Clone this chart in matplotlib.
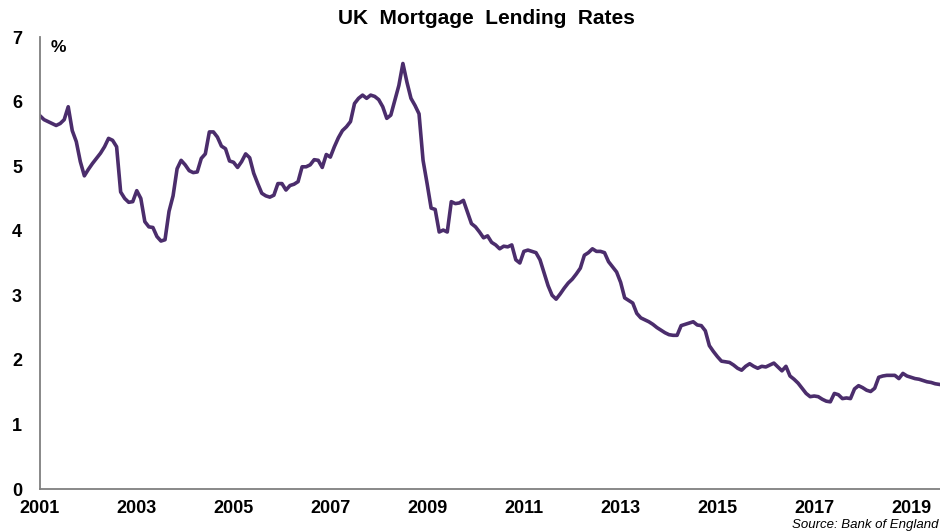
import numpy as np
import matplotlib
matplotlib.use("Agg")
from matplotlib import pyplot as plt

plt.rcParams["font.family"] = ["Liberation Sans", "DejaVu Sans"]

# monthly mortgage lending rate (%), Jan 2001 onwards
start_year = 2001
rates = [
    5.78, 5.72, 5.69, 5.66, 5.63, 5.66, 5.72, 5.92, 5.55, 5.38, 5.07, 4.85,   # 2001
    4.95, 5.04, 5.12, 5.20, 5.30, 5.43, 5.40, 5.30, 4.60, 4.50, 4.44, 4.45,   # 2002
    4.62, 4.50, 4.14, 4.06, 4.05, 3.91, 3.84, 3.86, 4.30, 4.54, 4.96, 5.09,   # 2003
    5.02, 4.93, 4.90, 4.91, 5.12, 5.19, 5.53, 5.53, 5.45, 5.31, 5.27, 5.08,   # 2004
    5.06, 4.98, 5.07, 5.19, 5.13, 4.89, 4.73, 4.58, 4.54, 4.52, 4.55, 4.73,   # 2005
    4.73, 4.63, 4.70, 4.72, 4.76, 4.99, 4.99, 5.02, 5.10, 5.09, 4.98, 5.18,   # 2006
    5.14, 5.30, 5.44, 5.55, 5.61, 5.69, 5.97, 6.05, 6.10, 6.05, 6.10, 6.08,   # 2007
    6.03, 5.92, 5.74, 5.79, 6.02, 6.25, 6.59, 6.30, 6.05, 5.94, 5.81, 5.09,   # 2008
    4.73, 4.35, 4.33, 3.98, 4.01, 3.98, 4.45, 4.42, 4.43, 4.47, 4.29, 4.11,   # 2009
    4.06, 3.98, 3.89, 3.92, 3.82, 3.78, 3.72, 3.76, 3.75, 3.78, 3.55, 3.50,   # 2010
    3.68, 3.70, 3.68, 3.66, 3.55, 3.35, 3.15, 3.00, 2.94, 3.02, 3.11, 3.19,   # 2011
    3.25, 3.33, 3.42, 3.62, 3.66, 3.72, 3.68, 3.68, 3.66, 3.52, 3.44, 3.36,   # 2012
    3.20, 2.96, 2.92, 2.88, 2.72, 2.65, 2.62, 2.59, 2.55, 2.50, 2.46, 2.42,   # 2013
    2.39, 2.38, 2.38, 2.53, 2.55, 2.57, 2.59, 2.54, 2.53, 2.45, 2.22, 2.13,   # 2014
    2.05, 1.98, 1.97, 1.96, 1.92, 1.87, 1.84, 1.90, 1.94, 1.90, 1.87, 1.90,   # 2015
    1.89, 1.92, 1.95, 1.89, 1.83, 1.90, 1.75, 1.70, 1.64, 1.56, 1.48, 1.43,   # 2016
    1.44, 1.43, 1.39, 1.36, 1.35, 1.48, 1.46, 1.40, 1.41, 1.40, 1.55, 1.60,   # 2017
    1.57, 1.53, 1.51, 1.56, 1.73, 1.75, 1.76, 1.76, 1.76, 1.71, 1.79, 1.75,   # 2018
    1.73, 1.71, 1.70, 1.68, 1.66, 1.65, 1.63, 1.62,                           # 2019
]
year_ticks = list(range(2001, 2020, 2))
y_ticks = list(range(0, 8))

t = start_year + np.arange(len(rates)) / 12.0

fig = plt.figure(figsize=(9.4, 5.31), dpi=100)
ax = fig.add_axes([40/940, 42/531, 900/940, 452/531])

ax.plot(t, rates, color="#4b2d6c", lw=2.6, solid_joinstyle="round")

ax.set_xlim(2001, 2019.6)
ax.set_ylim(0, 7)
ax.set_xticks(year_ticks)
ax.set_xticklabels([str(y) for y in year_ticks])
ax.set_yticks(y_ticks)
ax.tick_params(length=0, labelsize=13)
ax.tick_params(axis="x", pad=8)
ax.tick_params(axis="y", pad=13)
for lab in ax.get_xticklabels() + ax.get_yticklabels():
    lab.set_fontweight("bold")

for side in ("top", "right"):
    ax.spines[side].set_visible(False)
for side in ("left", "bottom"):
    ax.spines[side].set_color("#7f7f7f")
    ax.spines[side].set_linewidth(1.3)

ax.text(0.012, 0.993, "%", transform=ax.transAxes, fontsize=12.5,
        fontweight="bold", va="top", ha="left")
fig.text(0.518, 0.966, "UK  Mortgage  Lending  Rates", fontsize=15,
         fontweight="bold", ha="center", va="center")
fig.text(0.998, 0.011, "Source: Bank of England", fontsize=9.5,
         style="italic", ha="right", va="center")

fig.savefig("out.png", dpi=100)
